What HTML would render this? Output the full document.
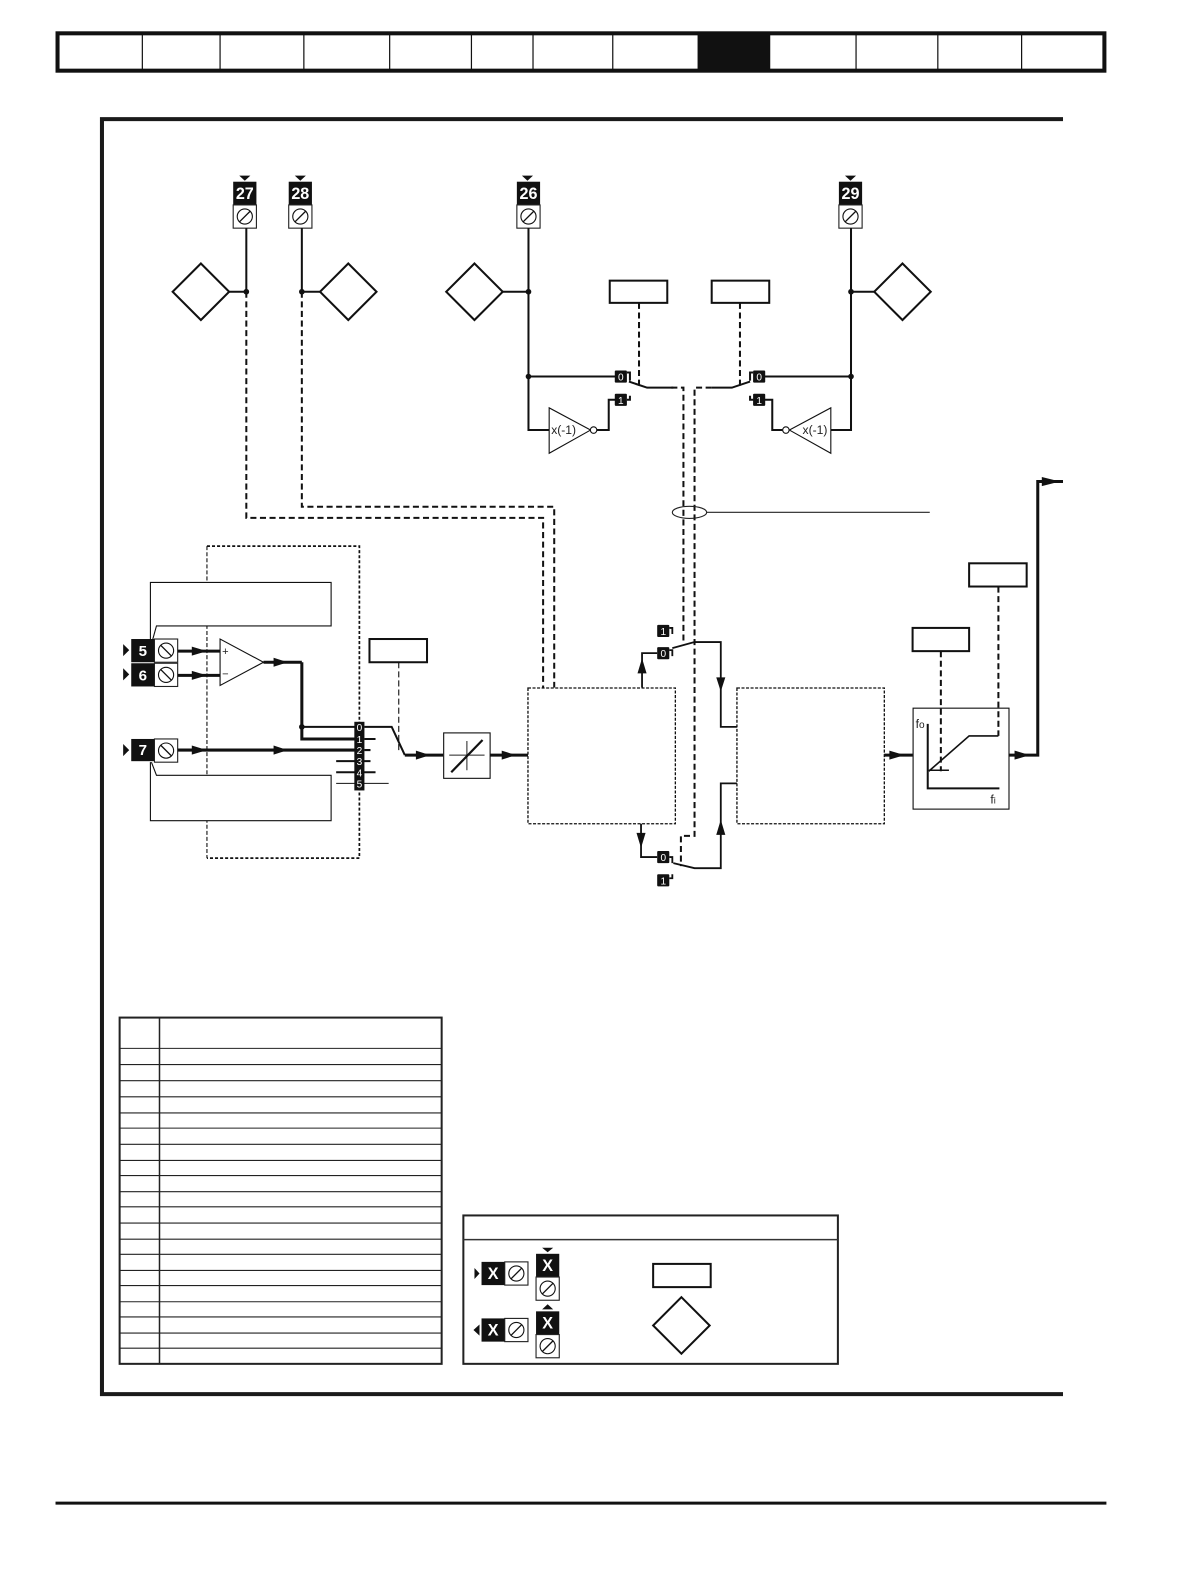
<!DOCTYPE html>
<html><head><meta charset="utf-8"><title>Diagram</title>
<style>html,body{margin:0;padding:0;background:#fff}svg{display:block}
text{font-family:"Liberation Sans",sans-serif}
.n{font-weight:bold;fill:#fff;text-anchor:middle}
.d{fill:#fff;text-anchor:middle;font-size:10px}
.l{fill:none;stroke:#111}
</style></head><body>
<svg width="1190" height="1582" viewBox="0 0 1178.8 1567.1" xmlns="http://www.w3.org/2000/svg">
<defs>
<g id="s"><rect x="0" y="0" width="23" height="23" fill="#fff" stroke="#222" stroke-width="1.100"/><circle cx="11.500" cy="11.500" r="7.500" fill="none" stroke="#111" stroke-width="1.100"/></g>
<g id="sh"><use href="#s"/><line x1="6" y1="6" x2="17" y2="17" stroke="#111" stroke-width="1.300"/></g>
<g id="sv"><use href="#s"/><line x1="6" y1="17" x2="17" y2="6" stroke="#111" stroke-width="1.300"/></g>
</defs>
<rect width="1190" height="1582" fill="#fff"/>
<!-- top bar -->
<rect x="57" y="33" width="1037" height="37" fill="#fff" stroke="#111" stroke-width="4"/>
<rect x="691" y="33" width="72" height="37" fill="#111"/>
<g stroke="#111" stroke-width="1.200"><path d="M141 33V70M218 33V70M301 33V70M386 33V70M467 33V70M528 33V70M607 33V70M848 33V70M929 33V70M1012 33V70"/></g>
<!-- frame -->
<path d="M1053 118H101V1381H1053" fill="none" stroke="#1a1a1a" stroke-width="4"/>
<line x1="55" y1="1489" x2="1096" y2="1489" stroke="#111" stroke-width="3"/>

<!-- top terminals -->
<g fill="#111">
<rect x="231" y="180" width="23" height="23"/><rect x="286" y="180" width="23" height="23"/><rect x="512" y="180" width="23" height="23"/><rect x="831" y="180" width="23" height="23"/>
<path d="M237 174h11l-5.500 5zM292 174h11l-5.500 5zM517 174h11l-5.500 5zM837 174h11l-5.500 5z"/>
</g>
<use href="#sv" x="231" y="203"/><use href="#sv" x="286" y="203"/><use href="#sv" x="512" y="203"/><use href="#sv" x="831" y="203"/>
<text class="n" x="242.500" y="197" font-size="16">27</text><text class="n" x="297.500" y="197" font-size="16">28</text><text class="n" x="523.500" y="197" font-size="16">26</text><text class="n" x="842.500" y="197" font-size="16">29</text>

<!-- diamonds -->
<g fill="#fff" stroke="#111" stroke-width="2">
<path d="M199 261l28 28-28 28-28-28z"/><path d="M345 261l28 28-28 28-28-28z"/><path d="M470 261l28 28-28 28-28-28z"/><path d="M894 261l28 28-28 28-28-28z"/>
<path d="M675 1285l28 28-28 28-28-28z"/>
<rect x="604" y="278" width="57" height="22"/><rect x="705" y="278" width="57" height="22"/><rect x="366" y="633" width="57" height="23"/><rect x="904" y="622" width="56" height="23"/><rect x="960" y="558" width="57" height="23"/><rect x="647" y="1252" width="57" height="23"/>
</g>
<!-- top solid wires -->
<g class="l" stroke-width="2">
<path d="M244 226V289H227M299 226V289H317M523.500 226V426H544M523.500 289H498M523.500 373H610M843 226V426H823M843 289H866M843 373H757"/>
<path d="M591 426H603V396H610M775 426H765V396H746"/>
<path d="M621 369h3v8M621 396h3v-4M746 369h-3v8M746 396h-3v-4M623 378L641 384H667M743 378L725 384H705"/>
</g>
<g fill="#111"><circle cx="244" cy="289" r="2.800"/><circle cx="299" cy="289" r="2.800"/><circle cx="523.500" cy="289" r="2.800"/><circle cx="523.500" cy="373" r="2.800"/><circle cx="843" cy="289" r="2.800"/><circle cx="843" cy="373" r="2.800"/><circle cx="299" cy="720" r="2.800"/></g>
<!-- inverters -->
<g fill="#fff" stroke="#111" stroke-width="1.100"><path d="M544 404V449L585 426z"/><circle cx="588" cy="426" r="3.200"/><path d="M823 404V449L782 426z"/><circle cx="778.500" cy="426" r="3.200"/></g>
<text x="546" y="430" font-size="12" fill="#222">x(-1)</text><text x="795" y="430" font-size="12" fill="#222">x(-1)</text>
<!-- switch boxes -->
<g fill="#111"><rect x="609" y="367" width="12" height="12" rx="1"/><rect x="609" y="390" width="12" height="12" rx="1"/><rect x="746" y="367" width="12" height="12" rx="1"/><rect x="746" y="390" width="12" height="12" rx="1"/><rect x="651" y="619" width="12" height="12" rx="1"/><rect x="651" y="641" width="12" height="12" rx="1"/><rect x="651" y="843" width="12" height="12" rx="1"/><rect x="651" y="866" width="12" height="12" rx="1"/></g>
<text class="d" x="615" y="377">0</text><text class="d" x="615" y="400">1</text><text class="d" x="752" y="377">0</text><text class="d" x="752" y="400">1</text><text class="d" x="657" y="629">1</text><text class="d" x="657" y="651">0</text><text class="d" x="657" y="853">0</text><text class="d" x="657" y="876">1</text>

<!-- dashed wires -->
<g class="l" stroke-width="2" stroke-dasharray="6 3.500">
<path d="M244 289V513H538V681M299 289V502H549V681"/>
<path d="M633 300V382M733 300V382"/>
<path d="M665 384H677V636M705 384H688V828H674.500V858"/>
<path d="M932 645V764M989 581V729"/>
</g>
<line x1="395" y1="656" x2="395" y2="745" stroke="#111" stroke-width="1.100" stroke-dasharray="6 3"/>
<ellipse cx="683" cy="507.500" rx="17" ry="6" fill="none" stroke="#222" stroke-width="1.100"/>
<line x1="700" y1="507.500" x2="921" y2="507.500" stroke="#222" stroke-width="1.100"/>

<!-- left dotted box -->
<path d="M205 541V850" fill="none" stroke="#111" stroke-width="1.100" stroke-dasharray="4 2"/>
<path d="M205 541H356V850H205" fill="none" stroke="#111" stroke-width="1.700" stroke-dasharray="3 2"/>
<!-- callouts -->
<path d="M149 638V577H328V620H155L150 638" fill="#fff" stroke="#111" stroke-width="1.100"/>
<path d="M150 755L155 768H328V813H149V755" fill="#fff" stroke="#111" stroke-width="1.100"/>
<!-- left terminals -->
<g fill="#111"><rect x="130" y="633" width="23" height="23"/><rect x="130" y="657" width="23" height="23"/><rect x="130" y="732" width="23" height="22"/>
<path d="M122 638l6 6-6 6zM122 662l6 6-6 6zM122 737l6 6-6 6z"/></g>
<use href="#sh" x="153" y="633"/><use href="#sh" x="153" y="657"/><use href="#sh" x="153" y="732"/>
<text class="n" x="141.500" y="650" font-size="15">5</text><text class="n" x="141.500" y="674" font-size="15">6</text><text class="n" x="141.500" y="748" font-size="15">7</text>
<!-- left wires -->
<g class="l" stroke-width="3">
<path d="M176 645H218M176 669H218M176 743H352M299 656V732H352M261 656H299"/>
</g>
<g class="l" stroke-width="2">
<path d="M299 720H352M361 720H388L401 748M361 732H372M361 743H367M333 754H367M333 765H372"/>
</g>
<line x1="333" y1="776" x2="385" y2="776" stroke="#111" stroke-width="1.100"/>
<path d="M401 748H439M485 748H523M876 748H904M999 748H1028V477H1053" fill="none" stroke="#111" stroke-width="3"/>
<path d="M218 633V679L261 656z" fill="#fff" stroke="#111" stroke-width="1.100"/>
<text x="220" y="649" font-size="11" fill="#222">+</text><text x="220" y="671" font-size="11" fill="#222">−</text>
<rect x="351" y="715" width="10" height="68" fill="#111"/>
<text class="d" x="356" y="724">0</text><text class="d" x="356" y="736">1</text><text class="d" x="356" y="747">2</text><text class="d" x="356" y="758">3</text><text class="d" x="356" y="769">4</text><text class="d" x="356" y="780">5</text>
<!-- arrows -->
<g fill="#111">
<path d="M190 640.500l15 4.500-15 4.500zM190 664.500l15 4.500-15 4.500zM190 738.500l15 4.500-15 4.500zM271 651.500l14 4.500-14 4.500zM271 738.500l14 4.500-14 4.500zM412 743.500l14 4.500-14 4.500zM497 743.500l14 4.500-14 4.500zM881 743.500l15 4.500-15 4.500zM1005 743.500l15 4.500-15 4.500zM1032 472.500l18 4.500-18 4.500z"/>
<path d="M636 652l-4.500 15h9zM635 840l-4.500-15h9zM714 685l-4.500-14h9zM714 812l-4.500 15h9z"/>
</g>
<!-- cross box -->
<rect x="439.500" y="726" width="46" height="45" fill="#fff" stroke="#111" stroke-width="1.100"/>
<path d="M445 748H480M462.500 734V763" stroke="#222" stroke-width="1" fill="none"/>
<line x1="447" y1="765" x2="478" y2="733" stroke="#111" stroke-width="2.200"/>
<!-- dotted function blocks -->
<rect x="523" y="681.500" width="146" height="134.500" fill="none" stroke="#111" stroke-width="1.300" stroke-dasharray="3 1.500"/>
<rect x="730" y="681.500" width="146" height="134.500" fill="none" stroke="#111" stroke-width="1.300" stroke-dasharray="3 1.500"/>
<!-- center switches -->
<g class="l" stroke-width="1.800">
<path d="M636 681V647H651M635 816V849H651"/>
<path d="M663 622h3v6M663 644h3v6M663 849h3v6M663 870h3v-4"/>
<path d="M666 642L688 636H714V720H730M667 855L688 860H714V776H730"/>
</g>
<!-- ramp box -->
<rect x="904.500" y="701.500" width="95" height="100" fill="none" stroke="#111" stroke-width="1.100"/>
<path d="M919 717V781H990" fill="none" stroke="#111" stroke-width="2"/>
<path d="M920 764L960 729H989M920 763H940" fill="none" stroke="#111" stroke-width="1.600"/>
<text x="907" y="721" font-size="12" fill="#222">f<tspan font-size="10">o</tspan></text>
<text x="981" y="796" font-size="12" fill="#222">f<tspan font-size="9">i</tspan></text>

<!-- table -->
<rect x="118.500" y="1008" width="319" height="343" fill="#fff" stroke="#222" stroke-width="2"/>
<line x1="158" y1="1008" x2="158" y2="1351" stroke="#222" stroke-width="1.500"/>
<path d="M118 1038.500H437M118 1054.500H437M118 1070.500H437M118 1086.500H437M118 1102.500H437M118 1117.500H437M118 1133.500H437M118 1149.500H437M118 1164.500H437M118 1180.500H437M118 1195.500H437M118 1211.500H437M118 1227.500H437M118 1242.500H437M118 1258.500H437M118 1273.500H437M118 1289.500H437M118 1304.500H437M118 1320.500H437M118 1335.500H437" stroke="#222" stroke-width="1.100" fill="none"/>

<!-- legend -->
<rect x="459" y="1204" width="371" height="147" fill="none" stroke="#222" stroke-width="2"/>
<line x1="459" y1="1228" x2="830" y2="1228" stroke="#333" stroke-width="1.500"/>
<g fill="#111"><rect x="477" y="1250" width="23" height="23"/><rect x="477" y="1306" width="23" height="23"/><rect x="531" y="1242" width="23" height="23"/><rect x="531" y="1299" width="23" height="23"/>
<path d="M470 1256l5 5.500-5 5.500zM475 1312l-6 5.500 6 5.500zM537 1236h11l-5.500 4.500zM537 1297h11l-5.500-5z"/></g>
<use href="#sv" x="500" y="1250"/><use href="#sv" x="500" y="1306"/><use href="#sv" x="531" y="1265"/><use href="#sv" x="531" y="1322"/>
<text class="n" x="488.500" y="1267" font-size="16">X</text><text class="n" x="488.500" y="1323" font-size="16">X</text><text class="n" x="542.500" y="1259" font-size="16">X</text><text class="n" x="542.500" y="1316" font-size="16">X</text>
</svg>
</body></html>
